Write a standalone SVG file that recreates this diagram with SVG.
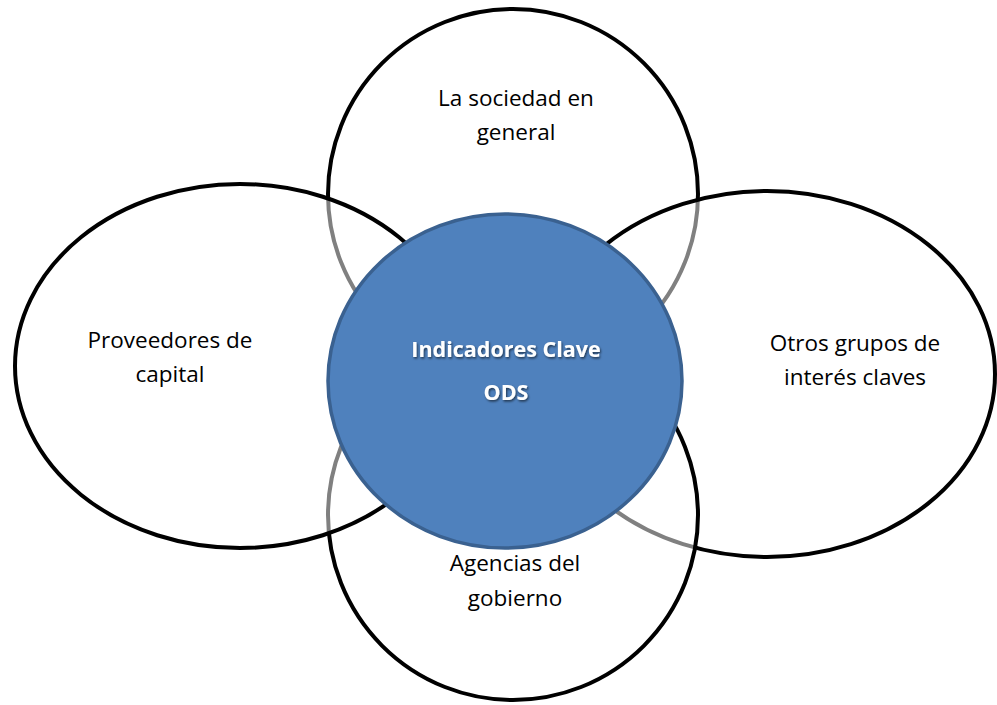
<svg xmlns="http://www.w3.org/2000/svg" width="997" height="705" viewBox="0 0 997 705">
<defs>
<style>
.ring{fill:#ffffff;fill-opacity:0.5;stroke:#000000;stroke-width:4}
.lbl{font-family:"Open Sans","Noto Sans",sans-serif;font-size:22.5px;fill:#000000;text-anchor:middle}
.ctr{font-family:"Open Sans","Noto Sans",sans-serif;font-size:21.5px;font-weight:bold;fill:#ffffff;text-anchor:middle;filter:url(#sh)}
</style>
<filter id="sh" x="-10%" y="-30%" width="120%" height="160%">
<feDropShadow dx="1" dy="1.5" stdDeviation="1" flood-color="#000000" flood-opacity="0.6"/>
</filter>
</defs>
<rect width="997" height="705" fill="#ffffff"/>
<g id="top">
<circle class="ring" cx="513" cy="194" r="185"/>
<text class="lbl" x="516" y="106">La sociedad en</text>
<text class="lbl" x="516" y="140">general</text>
</g>
<g id="right">
<ellipse class="ring" cx="767" cy="374" rx="228" ry="183"/>
<text class="lbl" x="855" y="351">Otros grupos de</text>
<text class="lbl" x="855" y="385">interés claves</text>
</g>
<g id="bottom">
<circle class="ring" cx="513" cy="515" r="185"/>
<text class="lbl" x="515" y="571">Agencias del</text>
<text class="lbl" x="515" y="606">gobierno</text>
</g>
<g id="left">
<ellipse class="ring" cx="240" cy="366" rx="225" ry="182"/>
<text class="lbl" x="170" y="348">Proveedores de</text>
<text class="lbl" x="170" y="382">capital</text>
</g>
<g id="center">
<ellipse cx="505" cy="381" rx="177" ry="167" fill="#4f81bd" stroke="#3a6190" stroke-width="3.5"/>
<text class="ctr" x="506" y="357">Indicadores Clave</text>
<text class="ctr" x="506" y="400">ODS</text>
</g>
<g id="connectors"/>
</svg>
